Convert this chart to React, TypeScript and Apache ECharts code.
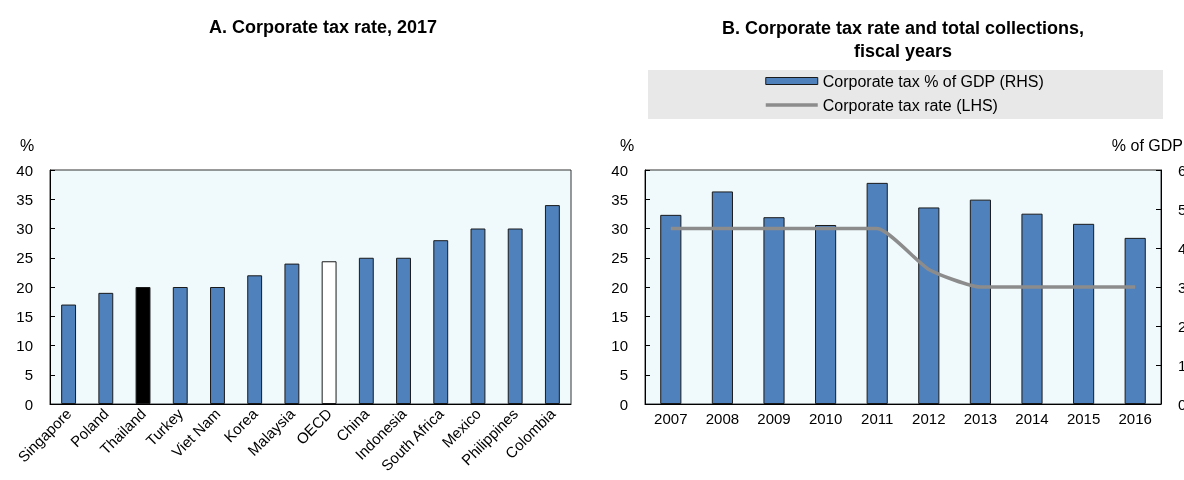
import {useEffect, useRef} from "react";
import * as echarts from "echarts";

const countries = ["Singapore", "Poland", "Thailand", "Turkey", "Viet Nam", "Korea", "Malaysia", "OECD", "China", "Indonesia", "South Africa", "Mexico", "Philippines", "Colombia"];
const taxRate2017 = [17, 19, 20, 20, 20, 22, 24, 24.4, 25, 25, 28, 30, 30, 34];

const years = ["2007", "2008", "2009", "2010", "2011", "2012", "2013", "2014", "2015", "2016"];
const taxPctGdp = [4.85, 5.45, 4.79, 4.59, 5.67, 5.04, 5.24, 4.88, 4.62, 4.26];
const taxRateLhs = [30, 30, 30, 30, 30, 23, 20, 20, 20, 20];

const BLUE = "#4F81BD";
const FONT = "'Liberation Sans', Arial, sans-serif";
const PLOT_BG = "#F0FAFD";
const LINE_GREY = "#8C8C8C";

function barColor(name: string): string {
    if (name === "Thailand") return "#000000";
    if (name === "OECD") return "#FFFFFF";
    return BLUE;
}

export default function App() {
    const domRef = useRef<HTMLDivElement>(null);

    useEffect(() => {
        if (!domRef.current) return;
        const chart = echarts.init(domRef.current, null, {renderer: "svg"});
        const axisText = {color: "#000", fontSize: 15, fontFamily: FONT};
        const valueAxis = {
            type: "value",
            min: 0,
            max: 40,
            interval: 5,
            axisLine: {show: true, lineStyle: {color: "#000"}},
            axisTick: {show: true, inside: true, length: 5, lineStyle: {color: "#000"}},
            axisLabel: {...axisText, margin: 17},
            splitLine: {show: false},
        };
        const gridBase = {
            top: 170, bottom: 76, show: true, backgroundColor: PLOT_BG, borderColor: "#333", borderWidth: 1,
            containLabel: false, outerBoundsMode: "none",
        };
        chart.setOption({
            animation: false,
            textStyle: {fontFamily: FONT},
            title: [
                {text: "A. Corporate tax rate, 2017", left: 318, top: 13, textAlign: "center",
                    textStyle: {fontSize: 18, fontWeight: "bold", color: "#000", fontFamily: FONT}},
                {text: "B. Corporate tax rate and total collections,\nfiscal years", left: 898, top: 11, textAlign: "center",
                    textStyle: {fontSize: 18, fontWeight: "bold", color: "#000", fontFamily: FONT, lineHeight: 23}},
            ],
            graphic: [
                {type: "rect", shape: {x: 648, y: 70, width: 515, height: 49}, style: {fill: "#E8E8E8"}, z: -1},
                {type: "text", x: 27, y: 145, style: {text: "%", fill: "#000", font: `16px ${FONT}`, textAlign: "center", textVerticalAlign: "middle"}},
                {type: "text", x: 627, y: 145, style: {text: "%", fill: "#000", font: `16px ${FONT}`, textAlign: "center", textVerticalAlign: "middle"}},
                {type: "text", x: 1183, y: 145, style: {text: "% of GDP", fill: "#000", font: `16px ${FONT}`, textAlign: "right", textVerticalAlign: "middle"}},
            ],
            legend: {
                data: [
                    {name: "Corporate tax % of GDP (RHS)", icon: "rect", itemStyle: {borderWidth: 1, borderColor: "#1a1a1a"}},
                    {name: "Corporate tax rate (LHS)", itemStyle: {opacity: 0}, lineStyle: {width: 3.5, color: LINE_GREY}},
                ],
                orient: "vertical",
                left: 764,
                top: 73,
                padding: 0,
                itemWidth: 52,
                itemHeight: 7,
                itemGap: 8,
                textStyle: {fontSize: 16, color: "#000", fontFamily: FONT},
            },
            grid: [
                {...gridBase, left: 50, right: 613},
                {...gridBase, left: 645, right: 23},
            ],
            xAxis: [
                {
                    type: "category", gridIndex: 0, data: countries,
                    axisLine: {lineStyle: {color: "#000"}},
                    axisTick: {inside: true, length: 5, lineStyle: {color: "#000"}},
                    axisLabel: {...axisText, rotate: 45, margin: 7, interval: 0},
                },
                {
                    type: "category", gridIndex: 1, data: years,
                    axisLine: {lineStyle: {color: "#000"}},
                    axisTick: {inside: true, length: 5, lineStyle: {color: "#000"}},
                    axisLabel: {...axisText, margin: 7, interval: 0},
                },
            ],
            yAxis: [
                {...valueAxis, gridIndex: 0},
                {...valueAxis, gridIndex: 1},
                {...valueAxis, gridIndex: 1, position: "right", min: 0, max: 6, interval: 1},
            ],
            series: [
                {
                    type: "bar", xAxisIndex: 0, yAxisIndex: 0, barWidth: "40%",
                    data: taxRate2017.map((v, i) => ({
                        value: v,
                        itemStyle: {color: barColor(countries[i]), borderColor: "#1a1a1a", borderWidth: 1},
                    })),
                },
                {
                    name: "Corporate tax % of GDP (RHS)", type: "bar", xAxisIndex: 1, yAxisIndex: 2, barWidth: "41%",
                    itemStyle: {color: BLUE, borderColor: "#1a1a1a", borderWidth: 1},
                    data: taxPctGdp,
                },
                {
                    name: "Corporate tax rate (LHS)", type: "line", xAxisIndex: 1, yAxisIndex: 1,
                    symbol: "none", smooth: 0.18,
                    lineStyle: {color: LINE_GREY, width: 3.5},
                    itemStyle: {color: LINE_GREY},
                    data: taxRateLhs,
                },
            ],
        });
        return () => chart.dispose();
    }, []);

    return <div ref={domRef} style={{position: "fixed", left: 0, top: 0, width: 1184, height: 480}} />;
}
